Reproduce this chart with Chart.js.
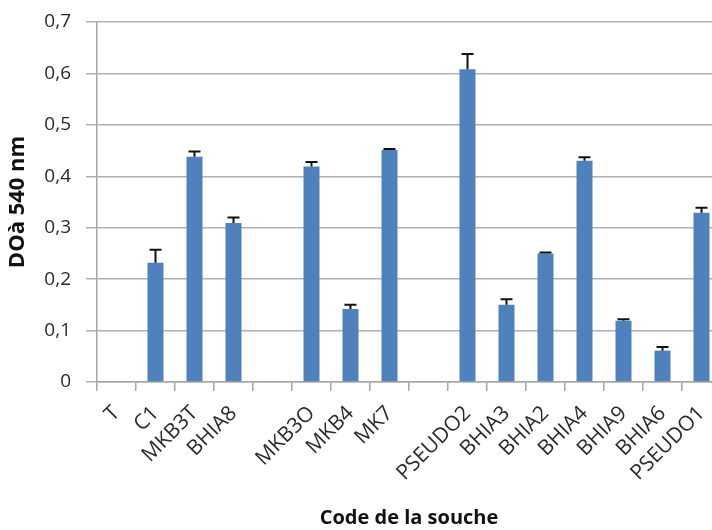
<!DOCTYPE html>
<html>
<head>
<meta charset="utf-8">
<script src="https://cdn.jsdelivr.net/npm/chart.js@4/dist/chart.umd.min.js"></script>
<style>
  html, body { margin: 0; padding: 0; background: #fff; overflow: hidden; }
  #wrap { position: relative; width: 740px; height: 530px; }
</style>
</head>
<body>
<div id="wrap"><canvas id="c" width="740" height="530"></canvas></div>
<script>
// Souches testées (les cases vides séparent les groupes)
const souches = ['T', 'C1', 'MKB3T', 'BHIA8', '', 'MKB3O', 'MKB4', 'MK7', '',
                 'PSEUDO2', 'BHIA3', 'BHIA2', 'BHIA4', 'BHIA9', 'BHIA6', 'PSEUDO1'];
// Densité optique moyenne à 540 nm
const densiteOptique = [0, 0.232, 0.438, 0.309, null, 0.419, 0.142, 0.451, null,
                        0.608, 0.150, 0.250, 0.430, 0.119, 0.061, 0.329];
// Écart-type (barre d'erreur vers le haut)
const ecartType = [0, 0.025, 0.010, 0.011, null, 0.009, 0.008, 0.002, null,
                   0.030, 0.011, 0.002, 0.007, 0.003, 0.007, 0.010];
// Graduations de l'axe vertical
const graduations = [0, 0.1, 0.2, 0.3, 0.4, 0.5, 0.6, 0.7];

const formatVirgule = v => (v === 0 ? '0' : v.toFixed(1).replace('.', ','));

// Barres d'erreur dessinées à partir des échelles du graphique
const barresErreur = {
  id: 'barresErreur',
  afterDatasetsDraw(chart) {
    const meta = chart.getDatasetMeta(0);
    const y = chart.scales.y;
    const ctx = chart.ctx;
    ctx.save();
    ctx.strokeStyle = '#111';
    ctx.lineWidth = 2;
    meta.data.forEach((bar, i) => {
      const v = densiteOptique[i], e = ecartType[i];
      if (v == null || !e) return;
      const yBas = y.getPixelForValue(v);
      const yHaut = y.getPixelForValue(v + e);
      ctx.beginPath();
      ctx.moveTo(bar.x, yBas);
      ctx.lineTo(bar.x, yHaut);
      ctx.moveTo(bar.x - 6, yHaut);
      ctx.lineTo(bar.x + 6, yHaut);
      ctx.stroke();
    });
    ctx.restore();
  }
};

new Chart(document.getElementById('c'), {
  type: 'bar',
  data: {
    labels: souches,
    datasets: [{
      data: densiteOptique,
      backgroundColor: '#4f81bd',
      borderWidth: 0,
      categoryPercentage: 0.82,
      barPercentage: 0.5
    }]
  },
  plugins: [barresErreur],
  options: {
    responsive: false,
    animation: false,
    layout: { padding: { top: 22, right: 19, left: 0, bottom: 0 } },
    plugins: { legend: { display: false }, tooltip: { enabled: false } },
    scales: {
      x: {
        grid: { drawOnChartArea: false, drawTicks: true, tickLength: 9, color: '#a6a6a6', lineWidth: 1.5 },
        border: { color: '#a6a6a6', width: 1.5 },
        ticks: {
          autoSkip: false, maxRotation: 45, minRotation: 45, padding: 10,
          color: '#2a2a2a', font: { family: 'Open Sans', size: 21 }
        },
        title: {
          display: true, text: 'Code de la souche', color: '#111',
          font: { family: 'Open Sans', size: 20, weight: 'bold' },
          padding: { top: 4, bottom: 0 }
        },
        afterFit(s) { s.height = 148; }
      },
      y: {
        min: 0, max: 0.7,
        afterBuildTicks(s) { s.ticks = graduations.map(v => ({ value: v })); },
        grid: { color: '#b0b0b0', lineWidth: 1.5, tickLength: 11 },
        border: { color: '#a6a6a6', width: 1.5 },
        ticks: {
          padding: 15, color: '#2a2a2a',
          font: { family: 'Open Sans', size: 19 },
          callback: v => formatVirgule(v)
        },
        title: {
          display: true, text: 'DOà 540 nm', color: '#111',
          font: { family: 'Open Sans', size: 22, weight: 'bold' },
          padding: { top: 5, bottom: 0 }
        },
        afterFit(s) { s.width = 97; s.paddingTop = 0; }
      }
    }
  }
});
</script>
</body>
</html>
